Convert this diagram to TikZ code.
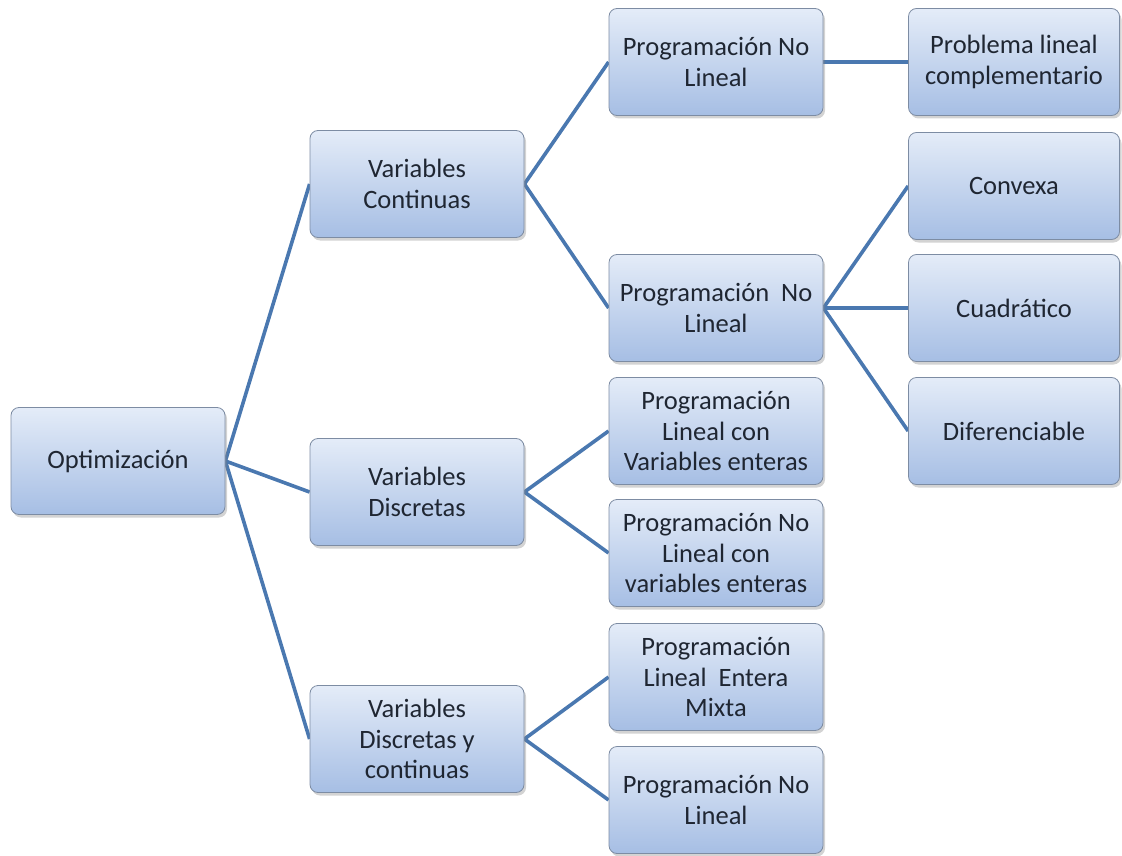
\documentclass[tikz,border=0pt]{standalone}
\usepackage{fontspec}
\setmainfont{Carlito}
\usepackage{tikz}
\usetikzlibrary{shadows,backgrounds}
\definecolor{boxtop}{HTML}{E4ECF8}
\definecolor{boxbot}{HTML}{A6BEE4}
\definecolor{boxline}{HTML}{7D8CA3}
\definecolor{linkblue}{HTML}{4A78B0}
\definecolor{txtdark}{HTML}{1F2632}

\begin{document}
\begin{tikzpicture}[
  x=1pt, y=-1pt,
  font=\fontsize{26.5}{30.5}\selectfont,
  box/.style={draw=boxline, line width=0.8pt, rounded corners=8pt,
    top color=boxtop, bottom color=boxbot, text=txtdark,
    align=center, minimum width=214pt, minimum height=107pt, inner sep=2pt,
    drop shadow={shadow xshift=2pt, shadow yshift=-3pt, opacity=0.35}},
  leaf/.style={box, minimum width=211pt},
  link/.style={linkblue, line width=3.6pt},
]
\useasboundingbox (0,0) rectangle (1122,856);
% ---- level 1 and 2 ----
\node[box] (opt)   at (118,461) {Optimización};
\node[box] (vcont) at (417,184) {Variables\\Continuas};
\node[box] (vdisc) at (417,492) {Variables\\Discretas};
\node[box] (vmix)  at (417,739) {Variables\\Discretas y\\continuas};
% ---- level 3 ----
\node[box] (pnla)  at (716,62)  {Programación No\\Lineal};
\node[box] (pnlb)  at (716,308) {Programación\ \ No\\Lineal};
\node[box] (plve)  at (716,431) {Programación\\Lineal con\\Variables enteras};
\node[box] (pnlve) at (716,553) {Programación No\\Lineal con\\variables enteras};
\node[box] (plem)  at (716,677) {Programación\\Lineal\ \ Entera\\Mixta};
\node[box] (pnlc)  at (716,800) {Programación No\\Lineal};
% ---- level 4 ----
\node[leaf] (plc)  at (1014,62)  {Problema lineal\\complementario};
\node[leaf] (conv) at (1014,186) {Convexa};
\node[leaf] (cuad) at (1014,308) {Cuadrático};
\node[leaf] (dife) at (1014,431) {Diferenciable};

\begin{scope}[on background layer]
\foreach \c in {vcont,vdisc,vmix}
  \draw[link] (opt.east) -- (\c.west);
\foreach \c in {pnla,pnlb}
  \draw[link] (vcont.east) -- (\c.west);
\foreach \c in {plve,pnlve}
  \draw[link] (vdisc.east) -- (\c.west);
\foreach \c in {plem,pnlc}
  \draw[link] (vmix.east) -- (\c.west);
\draw[link] (pnla.east) -- (plc.west);
\foreach \c in {conv,cuad,dife}
  \draw[link] (pnlb.east) -- (\c.west);
\end{scope}
\end{tikzpicture}
\end{document}
